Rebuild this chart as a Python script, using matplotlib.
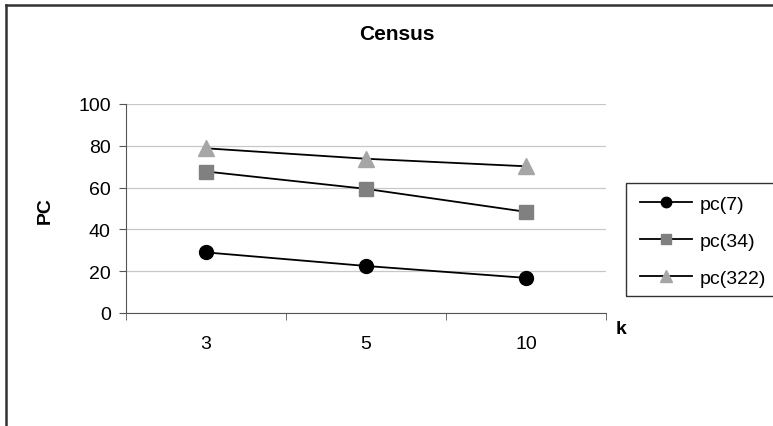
import matplotlib
matplotlib.use('Agg')
import matplotlib.pyplot as plt
from matplotlib.lines import Line2D
from matplotlib.patches import Rectangle

k_labels = ['3', '5', '10']
pc7 = [29, 22.5, 16.8]
pc34 = [67.7, 59.4, 48.4]
pc322 = [78.8, 73.8, 70.2]

W, H = 773, 427
plt.rcParams['font.family'] = ['Liberation Sans', 'DejaVu Sans']
fig = plt.figure(figsize=(W / 100, H / 100), dpi=100)

# plot area in pixel coords
left, right, top, bottom = 126, 606, 105, 314
ax = fig.add_axes([left / W, 1 - bottom / H, (right - left) / W, (bottom - top) / H])

x = range(len(k_labels))
ax.plot(x, pc7, color='black', lw=1.3, marker='o', ms=10, mfc='black', mec='black', label='pc(7)')
ax.plot(x, pc34, color='black', lw=1.3, marker='s', ms=10, mfc='#808080', mec='#808080', label='pc(34)')
ax.plot(x, pc322, color='black', lw=1.3, marker='^', ms=12, mfc='#a6a6a6', mec='#a6a6a6', label='pc(322)')

ax.set_xlim(-0.5, 2.5)
ax.set_ylim(0, 100)
ax.set_yticks(range(0, 101, 20))
ax.set_xticks(list(x))
ax.set_xticklabels(k_labels)
ax.set_xticks([-0.5, 0.5, 1.5, 2.5], minor=True)
ax.tick_params(axis='x', which='major', length=0, pad=16, labelsize=14)
ax.tick_params(axis='x', which='minor', length=5, direction='out', color='#555555')
ax.tick_params(axis='y', length=5, direction='out', color='#555555', labelsize=14, pad=6)

ax.grid(axis='y', color='#c8c8c8', lw=0.9)
ax.set_axisbelow(True)
for s in ['top', 'right']:
    ax.spines[s].set_visible(False)
ax.spines['left'].set_color('#555555')
ax.spines['bottom'].set_color('#555555')

fig.text(397 / W, 1 - 40 / H, 'Census', ha='center', va='baseline', fontsize=15, fontweight='bold')
fig.text(45 / W, 1 - 211 / H, 'PC', ha='center', va='center', fontsize=14, fontweight='bold', rotation=90)
fig.text(621 / W, 1 - 330 / H, 'k', ha='center', va='center', fontsize=14, fontweight='bold')

# outer chart frame (top and left edges visible)
fig.add_artist(Line2D([6 / W, 1], [1 - 6 / H, 1 - 6 / H], color='#333333', lw=1.8, transform=fig.transFigure))
fig.add_artist(Line2D([6 / W, 6 / W], [0, 1 - 6 / H], color='#333333', lw=1.8, transform=fig.transFigure))

# legend box runs past the right edge
fig.add_artist(Rectangle((626 / W, 1 - 297 / H), 200 / W, 113 / H, fill=False,
                         edgecolor='#333333', lw=1.0, transform=fig.transFigure))
fig.legend(loc='center left', bbox_to_anchor=(630 / W, 1 - 242 / H), fontsize=14,
           frameon=False, handlelength=2.7, labelspacing=1.0, borderpad=0,
           handletextpad=0.4, markerscale=0.75)

fig.savefig('out.png', dpi=100)
